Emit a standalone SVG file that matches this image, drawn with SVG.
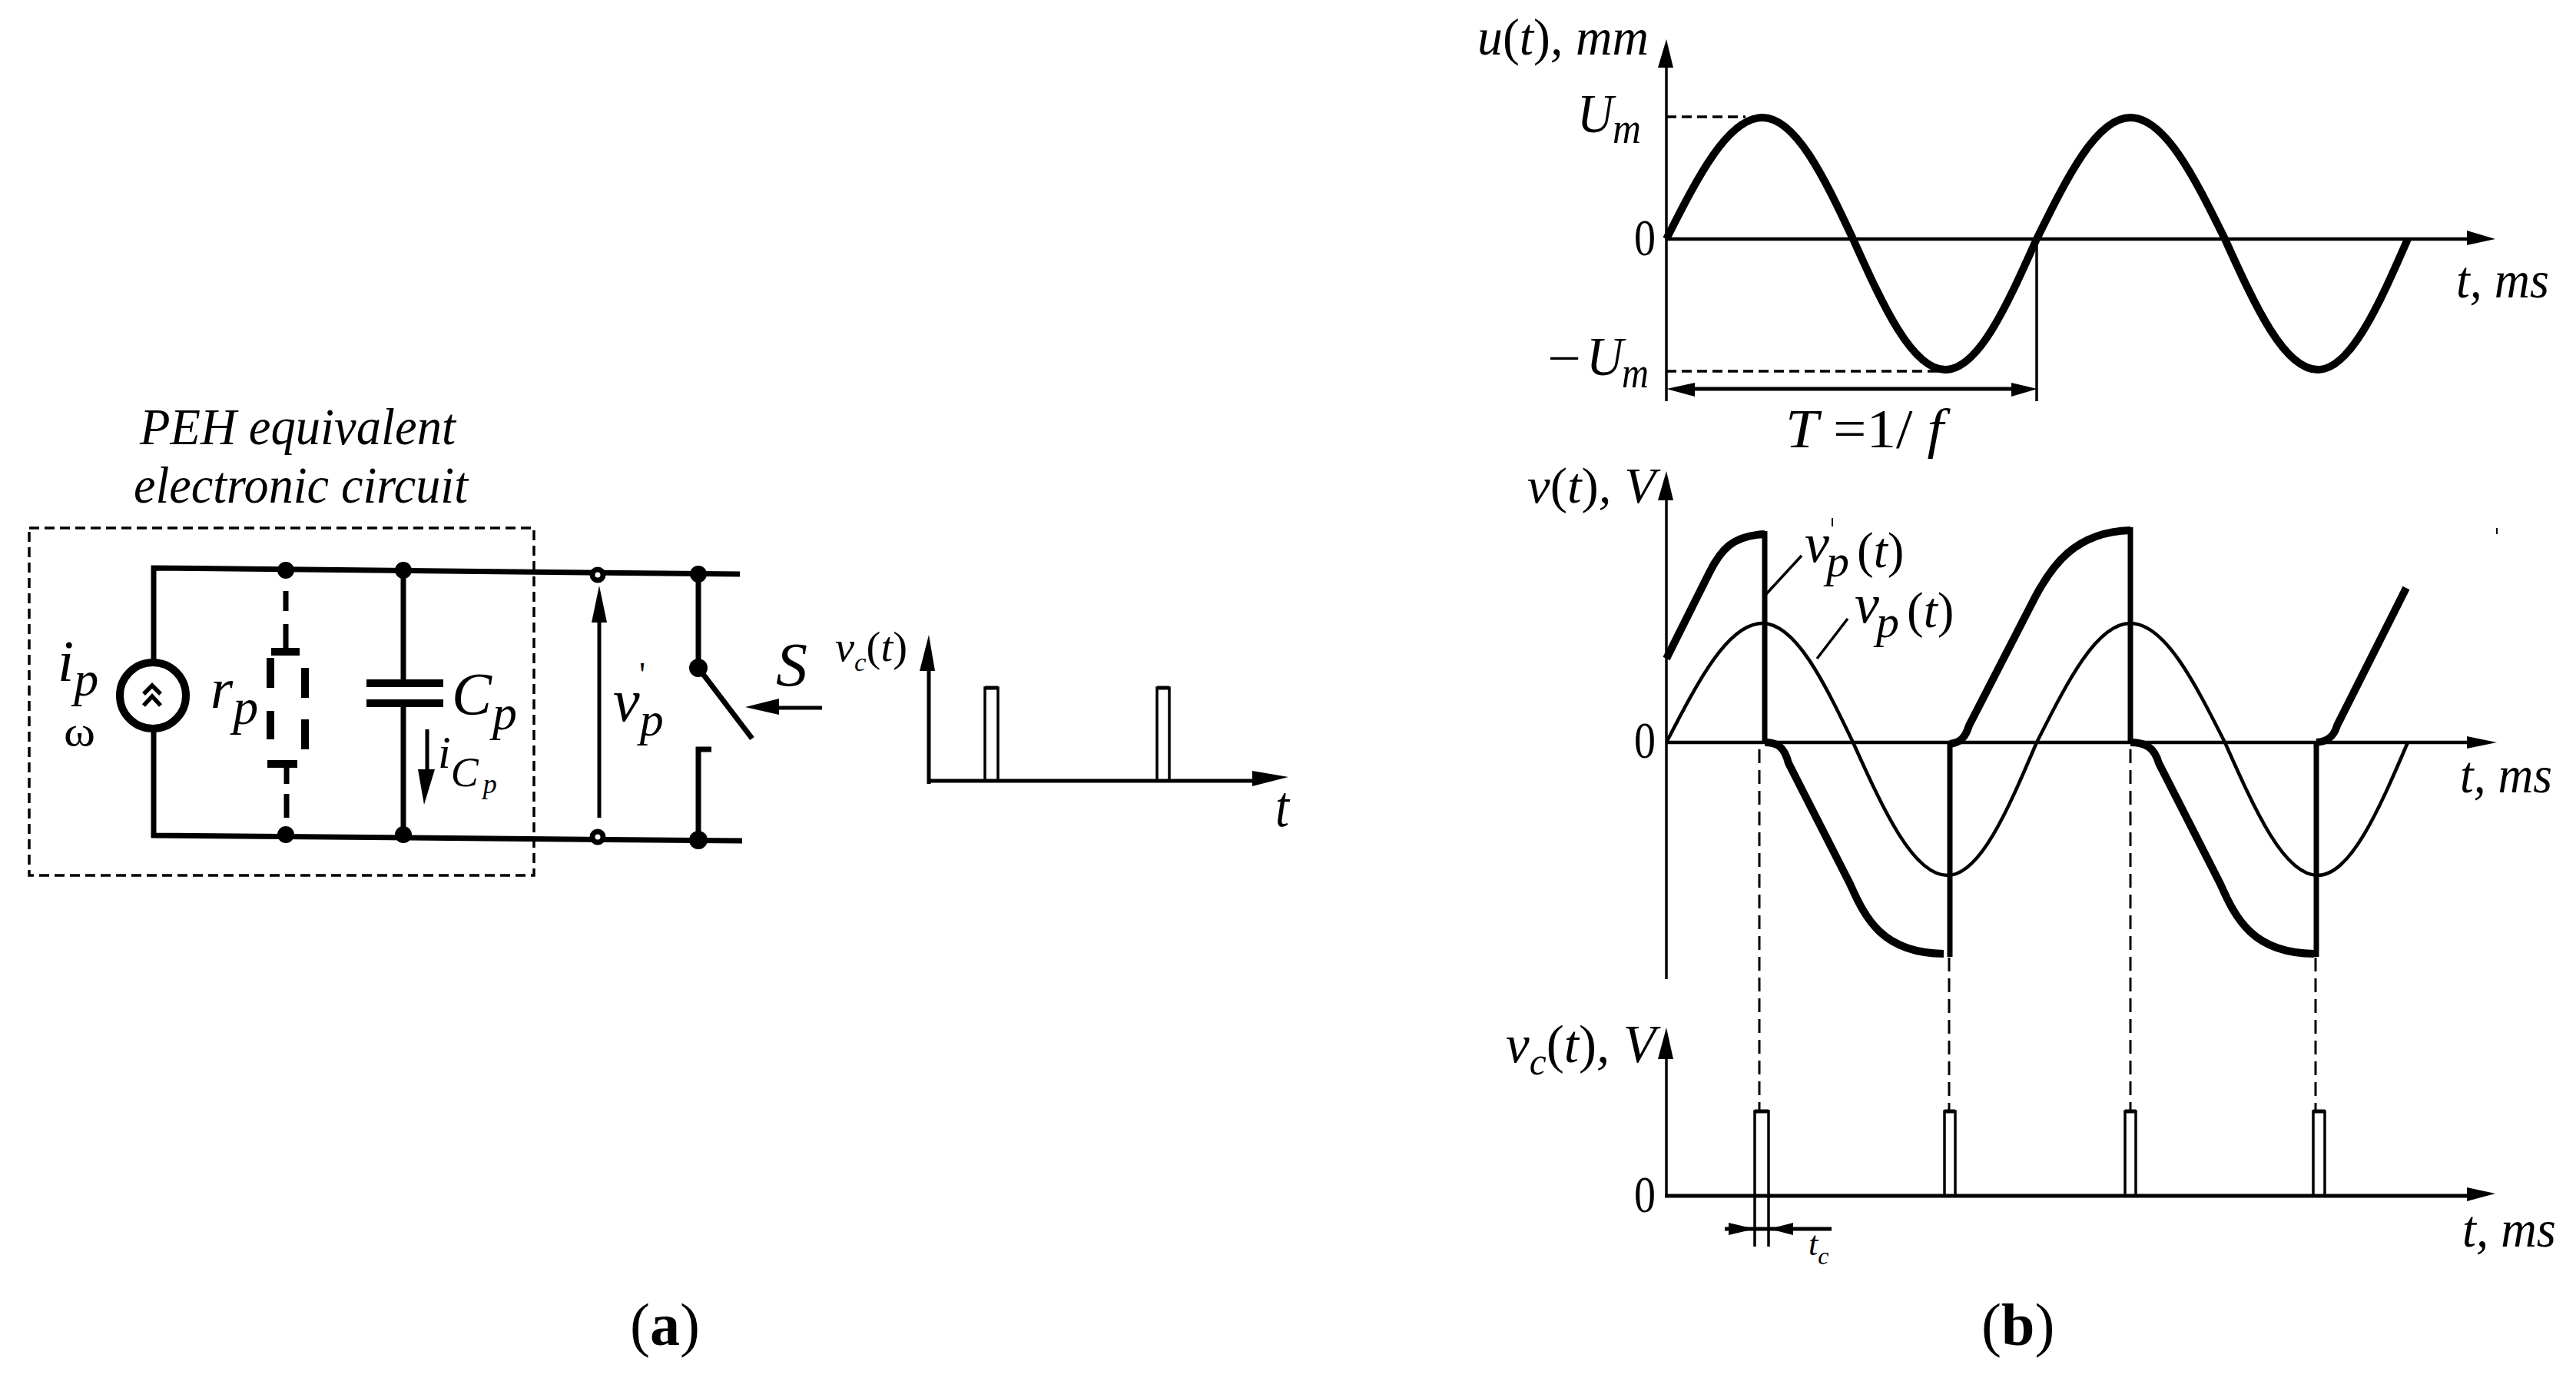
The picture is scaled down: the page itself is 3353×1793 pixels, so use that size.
<svg xmlns="http://www.w3.org/2000/svg" width="3353" height="1793" viewBox="0 0 3353 1793">
<style>
text{font-family:"Liberation Serif","Times New Roman",serif;fill:#000}
.i{font-style:italic}
.u{font-style:normal}
.b{font-weight:bold;font-style:normal}
.w{fill:none;stroke:#000;stroke-width:7}
.t{fill:none;stroke:#000;stroke-width:3.5}
.a{fill:none;stroke:#000;stroke-width:4.5}
.m{fill:none;stroke:#000;stroke-width:5}
.h{fill:none;stroke:#000;stroke-width:10;stroke-linejoin:round}
.r{fill:none;stroke:#000;stroke-width:10}
.d{fill:none;stroke:#000;stroke-width:3;stroke-dasharray:18 9}
.s{fill:none;stroke:#000;stroke-width:3.5;stroke-dasharray:13 7}
.f{fill:#000;stroke:none}
.o{fill:#fff;stroke:#000;stroke-width:7}
</style>
<rect width="3353" height="1793" fill="#fff"/>

<g id="peh-box">
<path d="M38 687H695V1139H38Z" fill="none" stroke="#000" stroke-width="3.5" stroke-dasharray="13 7"/>
<text class="i" x="182" y="578" font-size="68" textLength="411" lengthAdjust="spacingAndGlyphs">PEH equivalent</text>
<text class="i" x="174" y="654" font-size="68" textLength="435" lengthAdjust="spacingAndGlyphs">electronic circuit</text>
</g>

<g id="connectors-a">
<path class="w" d="M200 1090V736M197 739L963 747M197 1087L966 1094"/>
<path class="w" d="M525 742V886M525 918V1086"/>
<path class="w" d="M909 747V869L979 961M926 975H909V1093"/>
</g>

<g id="source">
<circle cx="199" cy="905" r="43" fill="#fff" stroke="#000" stroke-width="10"/>
<path d="M187 903L198 892L209 903M187 918L198 906L209 918" fill="none" stroke="#000" stroke-width="5.5"/>
<text class="i" x="75" y="886" font-size="76">i<tspan font-size="64" dy="19">p</tspan></text>
<text class="u" x="83" y="970" font-size="55" textLength="41" lengthAdjust="spacingAndGlyphs">ω</text>
</g>

<g id="resistor">
<path class="r" d="M372 769V795M372 812V843" style="stroke-width:7"/>
<path class="r" d="M353 848H390M348 994H387"/>
<path class="r" d="M352 856V895M352 925V962M397 869V908M397 936V975"/>
<path class="r" d="M373 999V1020M373 1033V1064" style="stroke-width:7"/>
<text class="i" x="274" y="921" font-size="75">r<tspan font-size="66" dy="21">p</tspan></text>
</g>

<g id="capacitor">
<path class="r" d="M477 889H577M477 915H577"/>
<text class="i" x="588" y="929" font-size="78">C<tspan font-size="64" dx="1" dy="20">p</tspan></text>
<path class="m" d="M556 949V1005"/>
<path class="f" d="M544 1001H566L552 1047Z"/>
<text class="i" x="570" y="999" font-size="60">i<tspan font-size="54" dy="24">C</tspan><tspan font-size="36" dx="6" dy="9">p</tspan></text>
</g>

<g id="nodes-dots">
<circle class="f" cx="372" cy="742" r="11"/><circle class="f" cx="525" cy="742" r="11"/>
<circle class="f" cx="909" cy="747" r="11"/><circle class="f" cx="909" cy="869" r="12"/>
<circle class="f" cx="372" cy="1086" r="11"/><circle class="f" cx="525" cy="1086" r="11"/>
<circle class="f" cx="909" cy="1093" r="12"/>
<circle class="o" cx="778" cy="748" r="7"/><circle class="o" cx="778" cy="1089" r="7"/>
</g>

<g id="voltage-vp">
<path class="m" d="M780 1064V805"/>
<path class="f" d="M770 810H790L780 762Z"/>
<text class="i" x="798" y="938" font-size="78">v<tspan font-size="62" dy="19">p</tspan></text>
<text class="u" x="832" y="892" font-size="45">'</text>
</g>

<g id="switch-control">
<path class="m" d="M1070 921H1010"/>
<path class="f" d="M1014 909V930L970 920Z"/>
<text class="i" x="1010" y="892" font-size="80" textLength="41" lengthAdjust="spacingAndGlyphs">S</text>
</g>

<g id="pulse-plot-a">
<path class="m" d="M1209 1020V868M1207 1016H1635"/>
<path class="f" d="M1197 873H1217L1209 826ZM1630 1003L1677 1011L1630 1023Z"/>
<path class="t" d="M1282 1016V895H1299V1016M1506 1016V895H1522V1016"/>
<path class="m" d="M1282 895H1299M1506 895H1522"/>
<text x="1087" y="860" font-size="55" textLength="94" lengthAdjust="spacingAndGlyphs"><tspan class="i">v</tspan><tspan class="i" font-size="34" dy="13">c</tspan><tspan class="u" dy="-13">(</tspan><tspan class="i">t</tspan><tspan class="u">)</tspan></text>
<text class="i" x="1660" y="1075" font-size="76" textLength="18" lengthAdjust="spacingAndGlyphs">t</text>
</g>

<g id="label-a">
<text x="820" y="1750" font-size="78"><tspan class="u">(</tspan><tspan class="b">a</tspan><tspan class="u">)</tspan></text>
</g>

<g id="plot-u">
<path class="t" d="M2169 522V80"/>
<path class="a" d="M2169 311H3215"/>
<path class="f" d="M2158 88H2178L2169 51ZM3211 300L3248 311L3211 319Z"/>
<path class="h" d="M2169 311C2210 230 2249 153 2294 153C2337 153 2374 230 2412 311C2451 398 2489 481 2532 481C2575 481 2612 398 2651 311C2691 230 2729 153 2773 153C2817.5 153 2856 230 2896 311C2935.5 398 2973 481 3017 481C3059 481 3096 398 3134 311"/>
<path class="s" d="M2169 152H2272M2169 483H2527"/>
<path class="t" d="M2651 311V522"/>
<path class="m" d="M2200 506H2625"/>
<path class="f" d="M2206 498V516L2169 506ZM2618 498V516L2652 506Z"/>
<text x="1923" y="71" font-size="68" textLength="223" lengthAdjust="spacingAndGlyphs"><tspan class="i">u</tspan><tspan class="u">(</tspan><tspan class="i">t</tspan><tspan class="u">)</tspan><tspan class="i">, mm</tspan></text>
<text class="i" x="2053" y="172" font-size="72" textLength="47" lengthAdjust="spacingAndGlyphs">U</text>
<text class="i" x="2099" y="186" font-size="58" textLength="37" lengthAdjust="spacingAndGlyphs">m</text>
<text class="u" x="2127" y="332" font-size="68" textLength="28" lengthAdjust="spacingAndGlyphs">0</text>
<text class="u" x="2014" y="488" font-size="66" textLength="44" lengthAdjust="spacingAndGlyphs">−</text>
<text class="i" x="2065" y="488" font-size="72" textLength="48" lengthAdjust="spacingAndGlyphs">U</text>
<text class="i" x="2111" y="504" font-size="58" textLength="35" lengthAdjust="spacingAndGlyphs">m</text>
<text class="i" x="3197" y="387" font-size="68" textLength="121" lengthAdjust="spacingAndGlyphs">t, ms</text>
<text x="2324" y="582" font-size="72" textLength="206" lengthAdjust="spacingAndGlyphs"><tspan class="i">T</tspan><tspan class="u"> =1/ </tspan><tspan class="i">f</tspan></text>
</g>

<g id="plot-v">
<path class="t" d="M2169 1274V640"/>
<path class="a" d="M2169 966H3215"/>
<path class="f" d="M2158 651H2178L2169 613ZM3211 958L3250 966L3211 974Z"/>
<path class="a" d="M2169 966C2210 887 2249 811 2294 811C2337 811 2374 887 2412 966C2452 1055 2490.5 1139 2535 1139C2577 1139 2613 1055 2651 966C2691 887 2729 811 2773 811C2817.5 811 2856 887 2896 966C2935.5 1055 2973 1139 3017 1139C3059 1139 3096 1055 3134 966"/>
<path class="h" d="M2169 857L2225 745C2240 715 2255 697 2297 695"/>
<path class="h" d="M2297 966C2312 966 2322 970 2328 993L2408 1150C2428 1195 2450 1240 2530 1241"/>
<path class="h" d="M2538 968C2552 966 2558 960 2563 944L2650 775C2670 738 2700 692 2773 690"/>
<path class="h" d="M2773 966C2792 966 2804 972 2810 993L2890 1150C2910 1195 2932 1240 3012 1241"/>
<path class="h" d="M3015 966C3030 965 3038 958 3042 944L3132 765"/>
<path class="w" d="M2297 691V968M2538 1245V966M2773 686V968M3015 1245V966"/>
<path class="t" d="M2345 723L2298 774M2405 805L2365 857"/>
<path class="t" style="stroke-width:2" d="M2385 674V685M3250 687V695"/>
<text x="1988" y="654" font-size="66" textLength="167" lengthAdjust="spacingAndGlyphs"><tspan class="i">v</tspan><tspan class="u">(</tspan><tspan class="i">t</tspan><tspan class="u">)</tspan><tspan class="i">, V</tspan></text>
<text class="u" x="2127" y="986" font-size="68" textLength="28" lengthAdjust="spacingAndGlyphs">0</text>
<text class="i" x="2349" y="731" font-size="72">v<tspan font-size="60" dx="-4" dy="19">p</tspan><tspan class="u" font-size="65" dx="10" dy="-12">(</tspan><tspan font-size="65">t</tspan><tspan class="u" font-size="65">)</tspan></text>
<text class="i" x="2414" y="810" font-size="72">v<tspan font-size="60" dx="-4" dy="19">p</tspan><tspan class="u" font-size="65" dx="10" dy="-13">(</tspan><tspan font-size="65">t</tspan><tspan class="u" font-size="65">)</tspan></text>
<text class="i" x="3202" y="1031" font-size="68" textLength="120" lengthAdjust="spacingAndGlyphs">t, ms</text>
</g>

<g id="sync-lines">
<path class="d" d="M2290 975V1445M2537 1246V1445M2773 975V1445M3014 1246V1445"/>
</g>

<g id="plot-vc">
<path class="t" d="M2169 1556V1370"/>
<path class="m" d="M2167 1556H3215"/>
<path class="f" d="M2158 1378H2178L2169 1337ZM3211 1545L3248 1553L3211 1563Z"/>
<path class="t" d="M2284 1622V1446H2302V1622M2531 1558V1446H2545V1558M2766 1558V1446H2780V1558M3011 1558V1446H3026V1558"/>
<path class="m" d="M2245 1599H2384M2284 1446H2302M2531 1446H2545M2766 1446H2780M3011 1446H3026"/>
<path class="f" d="M2250 1591L2284 1599L2250 1607ZM2334 1591V1607L2303 1599Z"/>
<text x="1960" y="1382" font-size="70" textLength="195" lengthAdjust="spacingAndGlyphs"><tspan class="i">v</tspan><tspan class="i" font-size="50" dy="16">c</tspan><tspan class="u" dy="-16">(</tspan><tspan class="i">t</tspan><tspan class="u">)</tspan><tspan class="i">, V</tspan></text>
<text class="u" x="2127" y="1577" font-size="68" textLength="28" lengthAdjust="spacingAndGlyphs">0</text>
<text class="i" x="3205" y="1622" font-size="68" textLength="122" lengthAdjust="spacingAndGlyphs">t, ms</text>
<text class="i" x="2354" y="1633" font-size="44">t<tspan font-size="32" dy="12">c</tspan></text>
</g>

<g id="label-b">
<text x="2579" y="1750" font-size="78"><tspan class="u">(</tspan><tspan class="b">b</tspan><tspan class="u">)</tspan></text>
</g>
</svg>
